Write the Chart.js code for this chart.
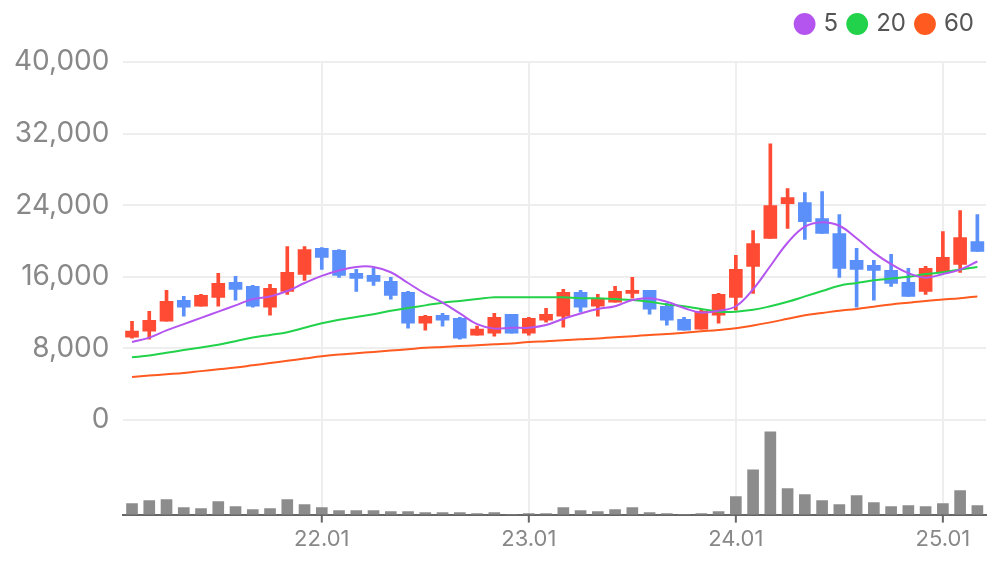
<!DOCTYPE html>
<html>
<head>
<meta charset="utf-8">
<script src="https://cdn.jsdelivr.net/npm/chart.js@4"></script>
<style>
  html, body { margin: 0; padding: 0; background: #fff; }
  #wrap { width: 996px; height: 567px; }
</style>
</head>
<body>
<div id="wrap"><canvas id="myChart"></canvas></div>
<script>
// monthly candles 21.02 .. 25.03
const months = [];
for (let y = 21; y <= 25; y++) {
  for (let m = 1; m <= 12; m++) {
    if ((y === 21 && m < 2) || (y === 25 && m > 3)) continue;
    months.push(y + '.' + String(m).padStart(2, '0'));
  }
}

const priceTicks = [0, 8000, 16000, 24000, 32000, 40000];

const open  = [9246, 9915, 11029, 13368, 12700, 13702, 15373, 14928, 12588, 14371, 16264, 19161, 18938, 16376, 16153, 15485, 14259, 10806, 11697, 11363, 9469, 9692, 11809, 9692, 11140, 11586, 14259, 12700, 13145, 14148, 14482, 12700, 11252, 10137, 11697, 13702, 17156, 20274, 24174, 24285, 22503, 20831, 17824, 17267, 16710, 15373, 14371, 16487, 17379, 19941];
const close = [9915, 11140, 13257, 12588, 13925, 15262, 14593, 12700, 14705, 16487, 19049, 18158, 16153, 15819, 15485, 13925, 10806, 11586, 11140, 9135, 10137, 11474, 9692, 11363, 11809, 14259, 12588, 13591, 14371, 14482, 12365, 11140, 10026, 12143, 14036, 16821, 19718, 23951, 24843, 22168, 20831, 16933, 16821, 16710, 15262, 13813, 16933, 18158, 20386, 18826];
const high  = [11029, 12143, 14482, 13813, 14036, 16376, 16042, 15039, 15150, 19384, 19384, 19272, 19049, 16821, 16933, 15930, 14371, 11697, 11920, 11474, 10472, 11920, 11809, 11474, 12477, 14593, 14482, 14036, 14928, 15930, 14482, 13034, 11474, 12365, 14148, 18381, 21166, 30858, 25845, 25400, 25511, 22948, 19161, 17824, 18492, 16933, 17156, 21055, 23394, 22948];
const low   = [9135, 9023, 11029, 11586, 12700, 12700, 13368, 12588, 11697, 14036, 15596, 16821, 15930, 14371, 15039, 13479, 10249, 10026, 10472, 9023, 9469, 9358, 9692, 9469, 10917, 10360, 12031, 11586, 13145, 13591, 11809, 10583, 10026, 10137, 10806, 12254, 14148, 20274, 21389, 20163, 20831, 15930, 12588, 13368, 14928, 13813, 14036, 16487, 16487, 18826];
const volume = [33, 42, 45, 21, 18, 39, 24, 15, 18, 45, 30, 21, 12, 12, 12, 9, 9, 6, 6, 6, 3, 6, 1, 3, 3, 21, 12, 9, 15, 21, 6, 3, 1, 3, 9, 54, 135, 249, 78, 60, 42, 30, 57, 36, 24, 27, 24, 33, 72, 27];
const ma5  = [8700, 9200, 10000, 10700, 11400, 12100, 12800, 13500, 13800, 14400, 15300, 16100, 16700, 17100, 17100, 16500, 15300, 14100, 13100, 11900, 10700, 10200, 10300, 10300, 10600, 11300, 11900, 12400, 12700, 13400, 13600, 13200, 12500, 12000, 12200, 12700, 14600, 17200, 19800, 21600, 22100, 21700, 20300, 18700, 17400, 16400, 15900, 16300, 16800, 17700];
const ma20 = [7000, 7200, 7500, 7800, 8100, 8400, 8800, 9200, 9500, 9800, 10300, 10800, 11200, 11500, 11800, 12200, 12500, 12800, 13100, 13300, 13500, 13700, 13700, 13700, 13700, 13700, 13600, 13600, 13500, 13400, 13200, 12900, 12700, 12400, 12100, 12100, 12300, 12700, 13200, 13800, 14400, 15000, 15300, 15600, 15800, 16000, 16300, 16500, 16800, 17100];
const ma60 = [4800, 4950, 5100, 5250, 5450, 5650, 5850, 6100, 6350, 6600, 6850, 7100, 7300, 7450, 7600, 7750, 7900, 8050, 8150, 8250, 8350, 8450, 8550, 8700, 8800, 8900, 9000, 9100, 9250, 9350, 9500, 9600, 9750, 9900, 10050, 10250, 10550, 10900, 11300, 11700, 11950, 12200, 12400, 12650, 12900, 13100, 13300, 13450, 13600, 13800];

const UP = '#ff4b33', DOWN = '#5b8ff9';
const candleColor = open.map((o, i) => close[i] >= o ? UP : DOWN);
const bodies = open.map((o, i) => {
  let a = Math.min(o, close[i]), b = Math.max(o, close[i]);
  if (b - a < 250) { const m = (a + b) / 2; a = m - 125; b = m + 125; }
  return [a, b];
});
const wicks = low.map((l, i) => [l, high[i]]);
const isJan = i => months[i].endsWith('.01');
const FONT = 'Inter, "Noto Sans", sans-serif';

const ctx = document.getElementById('myChart');
new Chart(ctx, {
  data: {
    labels: months,
    datasets: [
      { type: 'line', label: '5', data: ma5, borderColor: '#b455f0', backgroundColor: '#b455f0', borderWidth: 2, pointRadius: 0, tension: 0.4, order: 0 },
      { type: 'line', label: '20', data: ma20, borderColor: '#22d24a', backgroundColor: '#22d24a', borderWidth: 2, pointRadius: 0, tension: 0.4, order: 0 },
      { type: 'line', label: '60', data: ma60, borderColor: '#ff5a1f', backgroundColor: '#ff5a1f', borderWidth: 2, pointRadius: 0, tension: 0.4, order: 0 },
      { type: 'bar', label: 'body', data: bodies, backgroundColor: candleColor, barThickness: 13, grouped: false, order: 1 },
      { type: 'bar', label: 'wick', data: wicks, backgroundColor: candleColor, barThickness: 3, grouped: false, order: 2 },
      { type: 'bar', label: 'vol', data: volume, yAxisID: 'yv', backgroundColor: '#8c8c8c', barThickness: 11, grouped: false, order: 3 }
    ]
  },
  options: {
    responsive: true,
    maintainAspectRatio: false,
    animation: false,
    layout: { padding: { top: 0, right: 10, left: 0, bottom: 2 } },
    plugins: {
      tooltip: { enabled: false },
      legend: {
        position: 'top',
        align: 'end',
        labels: {
          filter: item => ['5', '20', '60'].includes(item.text),
          usePointStyle: true,
          pointStyle: 'circle',
          boxWidth: 14,
          boxHeight: 14,
          padding: 12,
          color: '#555',
          font: { size: 24, family: FONT }
        }
      }
    },
    scales: {
      x: {
        offset: true,
        grid: {
          offset: false,
          color: c => isJan(c.index) ? '#eeeeee' : 'rgba(0,0,0,0)',
          lineWidth: 2,
          drawTicks: false
        },
        border: { color: '#666', width: 2 },
        ticks: {
          autoSkip: false,
          maxRotation: 0,
          padding: 12,
          color: '#888',
          font: { size: 22, family: FONT },
          callback: (v, i) => isJan(i) ? months[i] : ''
        }
      },
      y: {
        min: -10585,
        max: 40000,
        grid: { color: '#eeeeee', lineWidth: 2, drawTicks: false },
        border: { display: false },
        ticks: {
          padding: 14,
          color: '#888',
          font: { size: 28, family: FONT },
          callback: v => v.toLocaleString('en-US')
        },
        afterBuildTicks: axis => { axis.ticks = priceTicks.map(v => ({ value: v })); }
      },
      yv: {
        display: false,
        min: 0,
        max: 1362
      }
    }
  },
  plugins: [{
    id: 'legendGap',
    beforeInit(chart) {
      const fit = chart.legend.fit;
      chart.legend.fit = function () { fit.bind(chart.legend)(); this.height += 16; };
    }
  }, {
    id: 'janTicks',
    afterDraw(chart) {
      const c = chart.ctx, x = chart.scales.x, b = chart.chartArea.bottom;
      c.save();
      c.strokeStyle = '#666';
      c.lineWidth = 2;
      months.forEach((m, i) => {
        if (!isJan(i)) return;
        const px = x.getPixelForValue(i);
        c.beginPath(); c.moveTo(px, b); c.lineTo(px, b + 8); c.stroke();
      });
      c.restore();
    }
  }]
});
</script>
</body>
</html>
